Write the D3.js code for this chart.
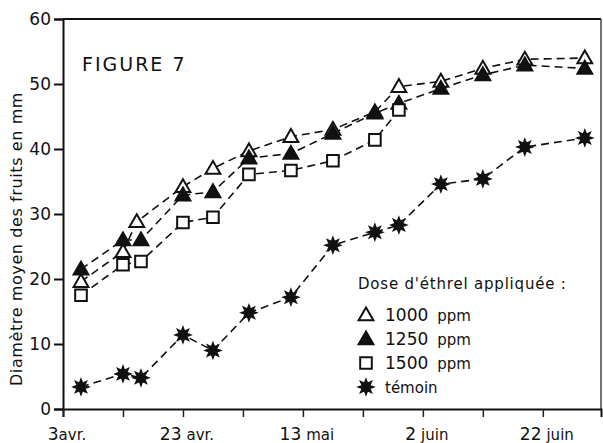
<!DOCTYPE html>
<html>
<head>
<meta charset="utf-8">
<script src="https://d3js.org/d3.v7.min.js"></script>
<style>
  body { margin: 0; background: #fff; }
  text { font-family: "DejaVu Sans", Verdana, sans-serif; fill: #111; }
</style>
</head>
<body>
<div id="chart"></div>
<script>
// days counted from 3 avr.
var dayTicks = [0, 10, 20, 30, 40, 50, 60, 70, 80];
var dayNums = ["3", "", "23", "", "13", "", "2", "", "22"];
var dayWords = ["avr.", "", "avr.", "", "mai", "", "juin", "", "juin"];
var yTicks = [0, 10, 20, 30, 40, 50, 60];

var seriesNames = ["1000", "1250", "1500", "témoin"];
var days = [3, 10, 13, 20, 25, 31, 38, 45, 52, 56, 63, 70, 77, 87];
var days1000 = [3, 10, 12.3, 20, 25, 31, 38, 45, 52, 56, 63, 70, 77, 87];
var days1500 = [3, 10, 13, 20, 25, 31, 38, 45, 52, 56];
var ppm1000 = [19.6, 24.2, 28.8, 34.2, 37.0, 39.7, 41.9, 43.0, 45.7, 49.6, 50.4, 52.4, 53.8, 54.0];
var ppm1250 = [21.5, 26.0, 26.0, 32.9, 33.4, 38.6, 39.3, 42.4, 45.5, 47.0, 49.3, 51.4, 52.9, 52.4];
var ppm1500 = [17.5, 22.2, 22.7, 28.7, 29.5, 36.1, 36.7, 38.2, 41.4, 46.0];
var temoin = [3.4, 5.4, 4.8, 11.4, 9.0, 14.8, 17.2, 25.2, 27.2, 28.3, 34.6, 35.4, 40.3, 41.7];

var w = 603, h = 443;
var pLeft = 63, pRight = 601, pTop = 19, pBottom = 409;

var x = d3.scaleLinear().domain([0, 89.7]).range([pLeft, pRight]);
var y = d3.scaleLinear().domain([0, 60]).range([pBottom, pTop]);

var svg = d3.select("#chart").append("svg").attr("width", w).attr("height", h);

// frame top + right
svg.append("line").attr("x1", pLeft).attr("x2", pRight).attr("y1", pTop).attr("y2", pTop)
  .style("stroke", "#111").style("stroke-width", 2);
svg.append("line").attr("x1", pRight).attr("x2", pRight).attr("y1", pTop).attr("y2", pBottom)
  .style("stroke", "#444").style("stroke-width", 1.5);

// axes
var yAxis = d3.axisLeft(y).tickValues(yTicks).tickSize(9).tickPadding(3);
var gy = svg.append("g").attr("transform", "translate(" + pLeft + ",0)").call(yAxis);
gy.select(".domain").style("stroke", "#111").style("stroke-width", 2);
gy.selectAll(".tick line").style("stroke", "#111").style("stroke-width", 2);
gy.selectAll(".tick text").style("font-size", "17px").style("fill", "#111")
  .style("font-family", "'DejaVu Sans', sans-serif");

var xAxis = d3.axisBottom(x).tickValues(dayTicks).tickSize(8).tickFormat("");
var gx = svg.append("g").attr("transform", "translate(0," + pBottom + ")").call(xAxis);
gx.select(".domain").style("stroke", "#111").style("stroke-width", 2);
gx.selectAll(".tick line").style("stroke", "#222").style("stroke-width", 1.5);

var xl = svg.selectAll(".xlab").data(dayTicks).enter().append("text")
  .attr("class", "xlab")
  .attr("x", function(d) { return x(d) + 4; })
  .attr("y", 440)
  .attr("text-anchor", "middle");
xl.append("tspan").style("font-size", "17px").text(function(d, i) { return dayNums[i]; });
xl.append("tspan").style("font-size", "15px")
  .attr("dx", function(d, i) { return i == 0 ? 0 : 5; })
  .text(function(d, i) { return dayWords[i]; });

// y title
svg.append("text")
  .attr("transform", "translate(22,239) rotate(-90)")
  .attr("text-anchor", "middle")
  .style("font-size", "16px").style("letter-spacing", "0.6px")
  .text("Diamètre moyen des fruits en mm");

svg.append("text").attr("x", 82).attr("y", 71)
  .style("font-size", "19px").style("letter-spacing", "2px")
  .text("FIGURE 7");

// markers
var tri = d3.symbol().type(d3.symbolTriangle).size(95);
var sq = d3.symbol().type(d3.symbolSquare).size(135);
function star(r1, r2, n) {
  var pts = [];
  for (var i = 0; i < n * 2; i++) {
    var a = Math.PI * i / n;
    var r = i % 2 == 0 ? r1 : r2;
    pts.push([r * Math.sin(a), -r * Math.cos(a)]);
  }
  return "M" + pts.join("L") + "Z";
}

var series = [
  { name: seriesNames[0], xs: days1000, ys: ppm1000, shape: "tri", fill: "#fff" },
  { name: seriesNames[1], xs: days, ys: ppm1250, shape: "tri", fill: "#111" },
  { name: seriesNames[2], xs: days1500, ys: ppm1500, shape: "sq", fill: "#fff" },
  { name: seriesNames[3], xs: days, ys: temoin, shape: "star", fill: "#111" }
];

function shapePath(s) {
  if (s.shape == "tri") return tri();
  if (s.shape == "sq") return sq();
  return star(7, 3.6, 8);
}

var line = d3.line().x(function(d) { return x(d[0]); }).y(function(d) { return y(d[1]); });

series.forEach(function(s) {
  var pts = s.xs.map(function(d, i) { return [d, s.ys[i]]; });
  svg.append("path").datum(pts).attr("d", line)
    .style("fill", "none").style("stroke", "#111").style("stroke-width", 1.6)
    .style("stroke-dasharray", "8,5");
});

series.forEach(function(s) {
  var pts = s.xs.map(function(d, i) { return [d, s.ys[i]]; });
  svg.selectAll(null).data(pts).enter().append("path")
    .attr("d", shapePath(s))
    .attr("transform", function(d) {
      var dy = s.shape == "tri" ? 1 : 0;
      return "translate(" + x(d[0]) + "," + (y(d[1]) + dy) + ")";
    })
    .style("fill", s.fill).style("stroke", "#111").style("stroke-width", 2);
});

// legend
svg.append("text").attr("x", 358).attr("y", 289)
  .style("font-size", "15px").style("letter-spacing", "0.8px")
  .text("Dose d'éthrel appliquée :");
var lg = svg.selectAll(".lg").data(series).enter().append("g")
  .attr("class", "lg")
  .attr("transform", function(d, i) { return "translate(366," + (315 + i * 24) + ")"; });
lg.append("path").attr("d", function(d) { return shapePath(d); })
  .attr("transform", function(d) { return d.shape == "tri" ? "translate(0,1)" : null; })
  .style("fill", function(d) { return d.fill; }).style("stroke", "#111").style("stroke-width", 2);
var lt = lg.append("text").attr("x", 19).attr("y", 5.5).style("font-size", "15px");
lt.append("tspan").style("font-size", function(d) { return d.shape == "star" ? "15px" : "17px"; })
  .text(function(d) { return d.name; });
lt.append("tspan").attr("dx", 9)
  .text(function(d) { return d.shape == "star" ? "" : "ppm"; });
</script>
</body>
</html>
